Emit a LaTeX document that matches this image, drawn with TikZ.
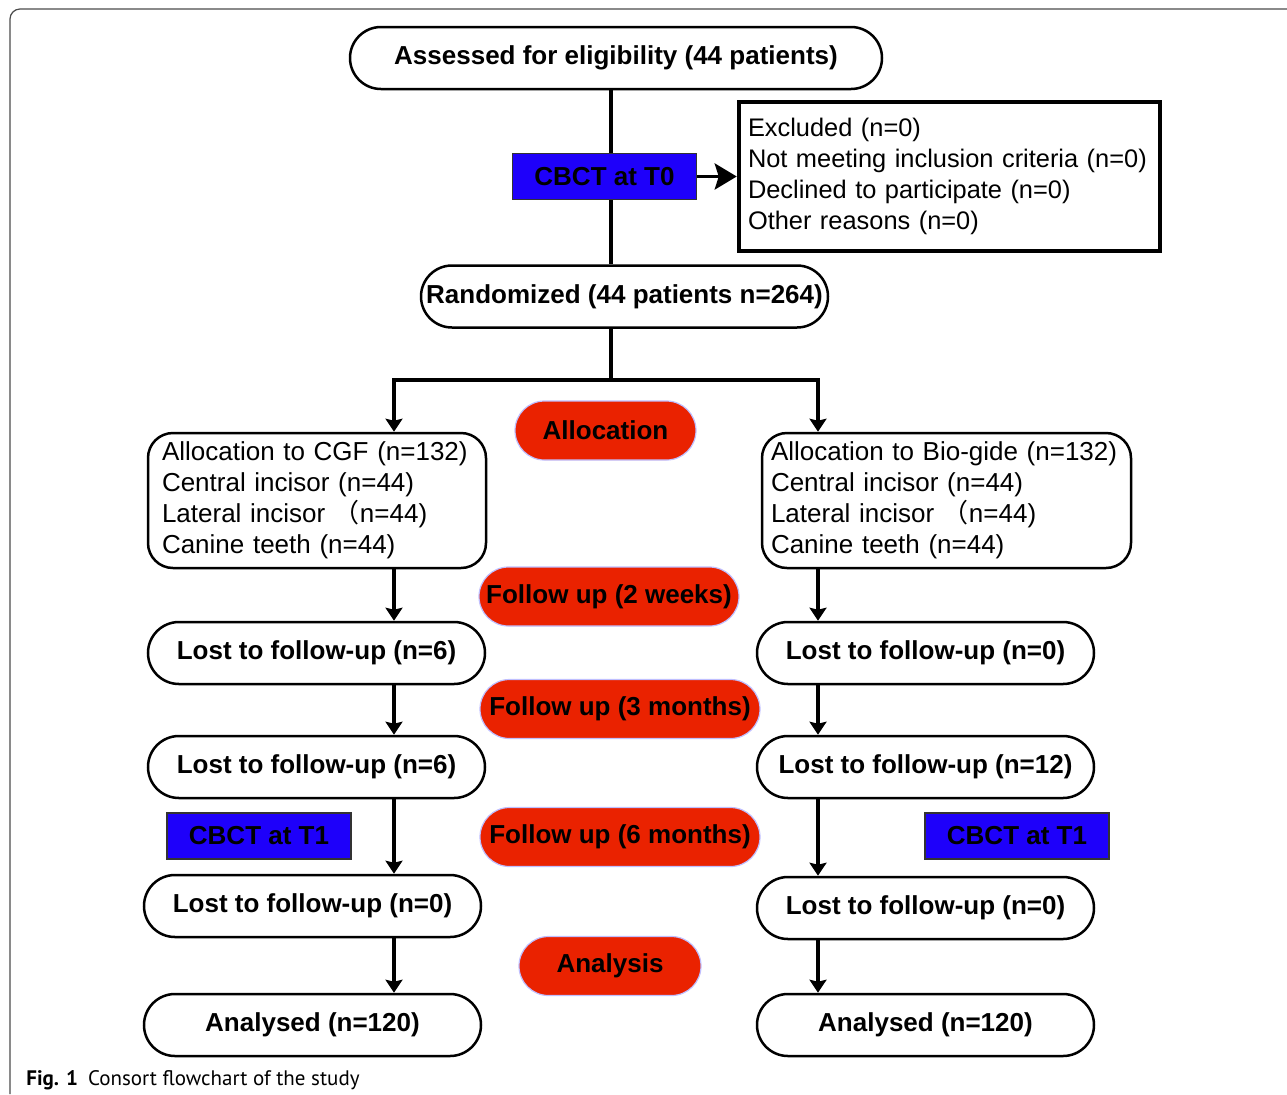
\documentclass[tikz,border=0pt]{standalone}
\usepackage{fontspec}
\setmainfont{Liberation Sans}
\newfontfamily\cjk{Noto Sans CJK SC}
\newfontfamily\capfont{PT Sans}
\usetikzlibrary{arrows.meta}

\begin{document}
\begin{tikzpicture}[x=0.5pt, y=-0.5pt,
  box/.style={draw, line width=1.25pt, rounded corners=15.5pt, minimum width=168.5pt,
    minimum height=31pt, inner sep=0pt, font=\fontsize{13}{15.5}\selectfont\bfseries},
  listbox/.style={draw, line width=1.25pt, rounded corners=12.5pt, minimum height=67.5pt,
    align=left, inner ysep=0pt, font=\fontsize{13}{15.5}\selectfont},
  pill/.style={fill=pillred, draw=blue!25, line width=0.6pt, rounded corners=14.75pt,
    minimum height=29.5pt, inner sep=0pt, font=\fontsize{13}{15.5}\selectfont\bfseries},
  scan/.style={fill=scanblue, draw=black!80, line width=0.75pt, minimum width=92pt,
    minimum height=23pt, inner sep=0pt, font=\fontsize{13}{15.5}\selectfont\bfseries},
  link/.style={line width=1.75pt},
  arr/.style={link, -{Stealth[length=6.5pt, width=8.5pt, inset=1pt]}},
]
  % Define colors
  \definecolor{pillred}{RGB}{234,34,0}
  \definecolor{scanblue}{RGB}{30,0,250}

  \useasboundingbox (0,0) rectangle (1287,1094);

  % Frame
  \draw[black!70, line width=0.6pt, rounded corners=5pt] (10,1094) -- (10,9) -- (1287,9);

  % Columns for the connectors
  \coordinate (colM) at (611,0);
  \coordinate (colL) at (394,0);
  \coordinate (colR) at (818,0);
  \coordinate (split) at (0,380);

  % Enrolment
  \node[box, minimum width=266pt] (assess) at (616,58) {Assessed for eligibility (44 patients)};
  \node[draw, line width=2.25pt, minimum height=74.5pt, inner xsep=4.5pt, text width=201.5pt,
    align=left, font=\fontsize{12.7}{15.5}\selectfont] (excl) at (949.5,176.5)
    {Excluded (n=0)\\Not meeting inclusion criteria (n=0)\\Declined to participate (n=0)\\Other reasons (n=0)};
  \node[box, minimum width=203.5pt] (rand) at (624.5,296.5) {Randomized (44 patients n=264)};

  \draw[link] (assess.south -| colM) -- (rand.north -| colM);
  \node[scan] (cbct0) at (604.5,176.5) {CBCT at T0};
  \draw[link, -{Stealth[length=11pt, width=13pt, inset=2pt]}] (cbct0.east) -- (excl.west);

  % Allocation
  \node[listbox, inner xsep=7pt, text width=155pt] (allocL) at (317,500.5)
    {Allocation to CGF (n=132)\\Central incisor (n=44)\\Lateral incisor {\cjk （}n=44)\\Canine teeth (n=44)};
  \node[listbox, inner xsep=4.5pt, text width=175.5pt] (allocR) at (946.5,500.5)
    {Allocation to Bio-gide (n=132)\\Central incisor (n=44)\\Lateral incisor {\cjk （}n=44)\\Canine teeth (n=44)};

  \draw[link] (rand.south -| colM) -- (colM |- split);
  \draw[arr] (colM |- split) -| (allocL.north -| colL);
  \draw[arr] (colM |- split) -| (allocR.north -| colR);

  % Stage labels
  \node[pill, minimum width=90.5pt] (stAlloc) at (605.5,430.5) {Allocation};
  \node[pill, minimum width=130pt] (stWeeks) at (609,596.5) {Follow up (2 weeks)};
  \node[pill, minimum width=140pt] (stThree) at (620,709) {Follow up (3 months)};
  \node[pill, minimum width=140pt] (stSix) at (620,837) {Follow up (6 months)};
  \node[pill, minimum width=91pt] (stAna) at (610,966) {Analysis};

  % Follow-up
  \node[box] (lostLa) at (316.5,653) {Lost to follow-up (n=6)};
  \node[box] (lostRa) at (925.5,653) {Lost to follow-up (n=0)};
  \node[box] (lostLb) at (316.5,767) {Lost to follow-up (n=6)};
  \node[box] (lostRb) at (925.5,767) {Lost to follow-up (n=12)};
  \node[box] (lostLc) at (312.5,906) {Lost to follow-up (n=0)};
  \node[box] (lostRc) at (925.5,908) {Lost to follow-up (n=0)};
  \node[box] (anaL) at (312.5,1025) {Analysed (n=120)};
  \node[box] (anaR) at (925.5,1025) {Analysed (n=120)};

  \node[scan] (cbctL) at (259,836) {CBCT at T1};
  \node[scan] (cbctR) at (1017,836) {CBCT at T1};

  \foreach \a/\b in {allocL/lostLa, lostLa/lostLb, lostLb/lostLc, lostLc/anaL}
    \draw[arr] (\a.south -| colL) -- (\b.north -| colL);
  \foreach \a/\b in {allocR/lostRa, lostRa/lostRb, lostRb/lostRc, lostRc/anaR}
    \draw[arr] (\a.south -| colR) -- (\b.north -| colR);

  % Caption
  \node[anchor=base west, inner sep=0pt, font=\capfont\fontsize{10.5}{12}\selectfont] (caption)
    at (26,1085) {\textbf{Fig. 1}\hspace{5pt}Consort flowchart of the study};
\end{tikzpicture}
\end{document}
